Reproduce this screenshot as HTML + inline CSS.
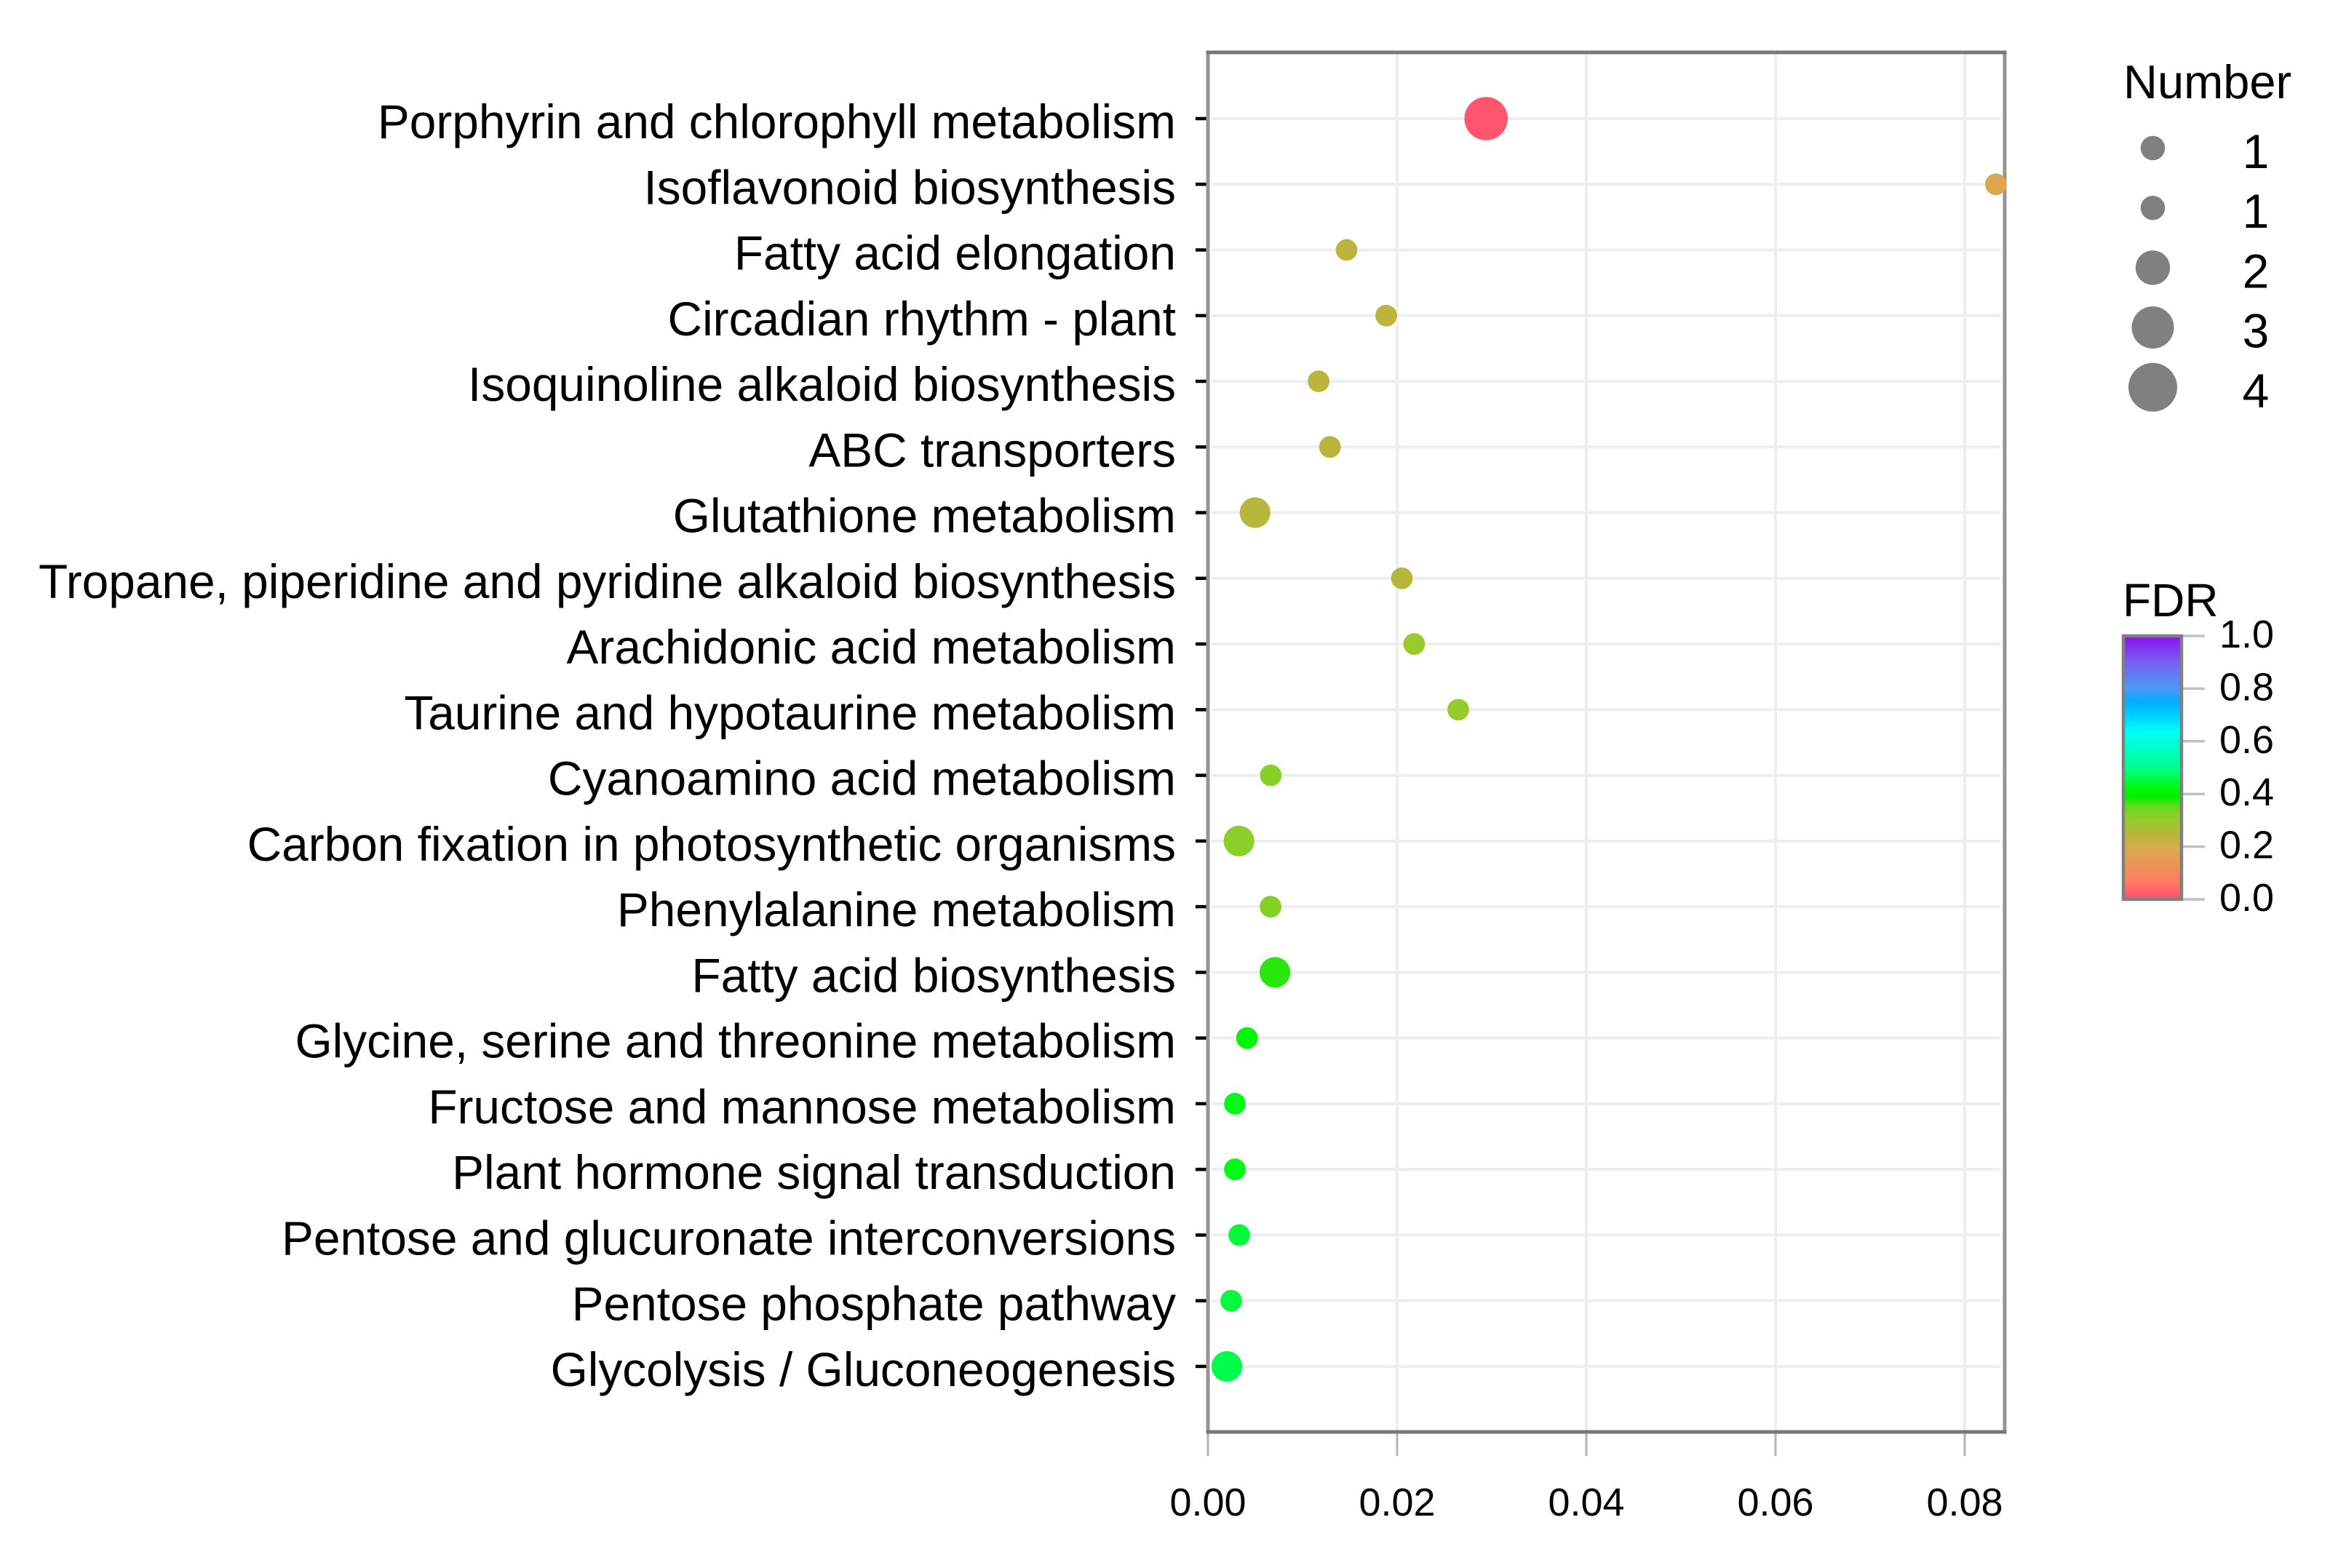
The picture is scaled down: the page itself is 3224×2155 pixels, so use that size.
<!DOCTYPE html>
<html lang="en">
<head>
<meta charset="utf-8">
<title>KEGG pathway enrichment bubble chart</title>
<style>
html,body{margin:0;padding:0;background:#fff;width:3224px;height:2155px;overflow:hidden}
svg{display:block}
text{font-family:"Liberation Sans",Arial,sans-serif;fill:#000}
</style>
</head>
<body>
<svg id="chart" xmlns="http://www.w3.org/2000/svg" width="3224" height="2155" viewBox="0 0 3224 2155">
  <defs>
    <linearGradient id="fdr-gradient" x1="0" y1="1" x2="0" y2="0"></linearGradient>
  </defs>
  <rect x="0" y="0" width="3224" height="2155" fill="#fff"/>
  <g id="grid"></g>
  <g id="axes"></g>
  <g id="frame"></g>
  <g id="points"></g>
  <g id="size-legend">
    <text x="2918" y="135" font-size="65">Number</text>
  </g>
  <g id="color-legend">
    <text x="2917" y="847" font-size="64">FDR</text>
  </g>
</svg>
<script>
const categories = [
  "Porphyrin and chlorophyll metabolism",
  "Isoflavonoid biosynthesis",
  "Fatty acid elongation",
  "Circadian rhythm - plant",
  "Isoquinoline alkaloid biosynthesis",
  "ABC transporters",
  "Glutathione metabolism",
  "Tropane, piperidine and pyridine alkaloid biosynthesis",
  "Arachidonic acid metabolism",
  "Taurine and hypotaurine metabolism",
  "Cyanoamino acid metabolism",
  "Carbon fixation in photosynthetic organisms",
  "Phenylalanine metabolism",
  "Fatty acid biosynthesis",
  "Glycine, serine and threonine metabolism",
  "Fructose and mannose metabolism",
  "Plant hormone signal transduction",
  "Pentose and glucuronate interconversions",
  "Pentose phosphate pathway",
  "Glycolysis / Gluconeogenesis"
];
const ratioValues = [0.0294,0.0833,0.01466,0.01885,0.0117,0.0129,0.00498,0.0205,0.0218,0.02646,0.00664,0.00328,0.00662,0.00708,0.00413,0.00285,0.00285,0.00331,0.00246,0.0020];
const fdrValues = [0.01,0.18,0.24,0.24,0.24,0.245,0.25,0.25,0.295,0.305,0.32,0.315,0.325,0.375,0.41,0.43,0.43,0.45,0.45,0.46];
const numberValues = [4,1,1,1,1,1,2,1,1,1,1,2,1,2,1,1,1,1,1,2];
const xTickValues = [0,0.02,0.04,0.06,0.08];
const xTickLabels = ["0.00","0.02","0.04","0.06","0.08"];
const sizeLegendValues = [1,1,2,3,4];
const fdrTickValues = [0,0.2,0.4,0.6,0.8,1];
const fdrTickLabels = ["0.0","0.2","0.4","0.6","0.8","1.0"];
const colorStops = [0,0.07,0.12,0.2,0.25,0.3,0.35,0.39,0.42,0.5,0.64,0.7,0.75,0.8,0.9,1];
const colorRamp = ["#ff5070","#ff7c62","#f09058","#d8ac4c","#b6b63a","#98cc2c","#6cd820","#00ee00","#00f808","#00ff90","#00fff8","#00ccff","#00b0ff","#4a98f8","#7860f0","#8a10f0"];

const NS = "http://www.w3.org/2000/svg";
const plot = {left:1660, right:2755, top:72, bottom:1968};
const xScale = v => plot.left + v * 13000;
const yScale = i => 163 + i * 90.26;
const plotDiameter = n => 29.8 * Math.sqrt(n);
const legendDiameter = n => 33.5 * Math.sqrt(n);
const barTop = 874, barBottom = 1236;
const barScale = v => barBottom - v * (barBottom - barTop);

function hexToRgb(h){return [1,3,5].map(p=>parseInt(h.substr(p,2),16));}
function colorFor(v){
  let k = 0;
  while (k < colorStops.length - 2 && v > colorStops[k+1]) k++;
  const t = Math.min(1, Math.max(0, (v - colorStops[k]) / (colorStops[k+1] - colorStops[k])));
  const a = hexToRgb(colorRamp[k]), b = hexToRgb(colorRamp[k+1]);
  const c = a.map((x,j)=>Math.round(x + (b[j]-x)*t));
  return "rgb(" + c.join(",") + ")";
}
function make(tag, attrs, parent, txt){
  const el = document.createElementNS(NS, tag);
  for (const k in attrs) el.setAttribute(k, attrs[k]);
  if (txt !== undefined) el.textContent = txt;
  parent.appendChild(el);
  return el;
}

const grid = document.getElementById("grid");
const axes = document.getElementById("axes");
const frame = document.getElementById("frame");
const points = document.getElementById("points");
const sizeLegend = document.getElementById("size-legend");
const colorLegend = document.getElementById("color-legend");

const borderLeft = make("line", {x1:plot.left, x2:plot.left, y1:plot.top, y2:plot.bottom, stroke:"#959595", "stroke-width":5}, frame);


const borderRight = make("line", {x1:plot.right, x2:plot.right, y1:plot.top, y2:plot.bottom, stroke:"#959595", "stroke-width":5}, frame);


const borderTop = make("line", {x1:plot.left - 2.5, x2:plot.right + 2.5, y1:plot.top, y2:plot.top, stroke:"#787878", "stroke-width":5}, frame);


const borderBottom = make("line", {x1:plot.left - 2.5, x2:plot.right + 2.5, y1:plot.bottom, y2:plot.bottom, stroke:"#787878", "stroke-width":5}, frame);



xTickValues.forEach((v, i) => {
  const x = xScale(v);
  const g = make("line", {x1:x, x2:x, y1:plot.top, y2:plot.bottom, stroke:"#eeeeee", "stroke-width":4}, grid);
  
  
  const t = make("line", {x1:x, x2:x, y1:plot.bottom, y2:plot.bottom + 33, stroke:"#b4b4b4", "stroke-width":3}, axes);
  
  
  const l = make("text", {x:x, y:2083, "font-size":54, "text-anchor":"middle"}, axes, xTickLabels[i]);
  
  
});

categories.forEach((name, i) => {
  const y = yScale(i);
  const g = make("line", {x1:plot.left + 5, x2:plot.right - 6, y1:y, y2:y, stroke:"#eeeeee", "stroke-width":4}, grid);
  
  
  const t = make("line", {x1:plot.left - 17, x2:plot.left - 1, y1:y, y2:y, stroke:"#000", "stroke-width":4.5}, axes);
  
  
  const l = make("text", {x:1616, y:y + 27, "font-size":65.8, "text-anchor":"end"}, axes, name);
  
  
  const c = make("circle", {cx:xScale(ratioValues[i]), cy:y, r:plotDiameter(numberValues[i]) / 2, fill:colorFor(fdrValues[i])}, points);
  
  
});

sizeLegendValues.forEach((n, i) => {
  const y = 203.5 + i * 82.2;
  const c = make("circle", {cx:2958.5, cy:y, r:legendDiameter(n) / 2, fill:"#808080"}, sizeLegend);
  
  
  const l = make("text", {x:3100, y:y + 27.5, "font-size":66, "text-anchor":"middle"}, sizeLegend, n);
  
  
});

const gradient = document.getElementById("fdr-gradient");
colorStops.forEach((s, i) => {
  make("stop", {offset:s, "stop-color":colorRamp[i]}, gradient);
});
const bar = make("rect", {x:2918, y:barTop, width:80, height:barBottom - barTop, fill:"url(#fdr-gradient)", stroke:"#808080", "stroke-width":4.5}, colorLegend);


fdrTickValues.forEach((v, i) => {
  const y = barScale(v);
  const t = make("line", {x1:3000, x2:3030, y1:y, y2:y, stroke:"#c0c0c0", "stroke-width":3.5}, colorLegend);
  
  
  const l = make("text", {x:3050, y:y + 16, "font-size":54}, colorLegend, fdrTickLabels[i]);
  
  
});
</script>
</body>
</html>
